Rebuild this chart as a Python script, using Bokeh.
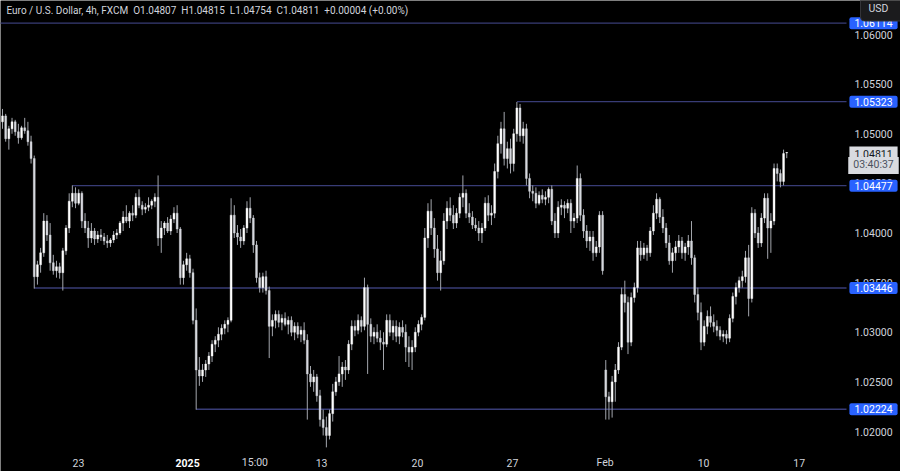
import numpy as np
from bokeh.plotting import figure
from bokeh.models import Range1d, Label, Grid
from bokeh.core.properties import value
from bokeh.embed import file_html
from bokeh.resources import INLINE

# ---------------- data (EUR/USD 4h, FXCM) ----------------
opens = [
    1.0512, 1.0518, 1.0495, 1.0505, 1.0512, 1.0502, 1.0496, 1.0506, 1.0503, 1.0492, 1.0475, 1.0356,
    1.0368, 1.0380, 1.0412, 1.0398, 1.0370, 1.0362, 1.0366, 1.0360, 1.0382, 1.0405, 1.0432, 1.0440,
    1.0430, 1.0440, 1.0412, 1.0405, 1.0395, 1.0402, 1.0394, 1.0398, 1.0396, 1.0392, 1.0390, 1.0393,
    1.0398, 1.0400, 1.0410, 1.0416, 1.0412, 1.0420, 1.0418, 1.0436, 1.0428, 1.0424, 1.0426, 1.0428,
    1.0432, 1.0436, 1.0395, 1.0405, 1.0410, 1.0402, 1.0414, 1.0420, 1.0404, 1.0355, 1.0368, 1.0374,
    1.0360, 1.0312, 1.0262, 1.0256, 1.0262, 1.0268, 1.0276, 1.0288, 1.0292, 1.0298, 1.0304, 1.0308,
    1.0312, 1.0418, 1.0400, 1.0396, 1.0392, 1.0405, 1.0425, 1.0415, 1.0388, 1.0355, 1.0345, 1.0356,
    1.0342, 1.0306, 1.0312, 1.0318, 1.0310, 1.0314, 1.0308, 1.0312, 1.0300, 1.0306, 1.0298, 1.0302,
    1.0292, 1.0258, 1.0250, 1.0255, 1.0236, 1.0212, 1.0204, 1.0196, 1.0218, 1.0240, 1.0250, 1.0258,
    1.0265, 1.0262, 1.0288, 1.0306, 1.0302, 1.0312, 1.0306, 1.0345, 1.0308, 1.0296, 1.0300, 1.0294,
    1.0290, 1.0288, 1.0312, 1.0300, 1.0306, 1.0296, 1.0305, 1.0300, 1.0285, 1.0280, 1.0285, 1.0300,
    1.0308, 1.0315, 1.0395, 1.0422, 1.0405, 1.0384, 1.0360, 1.0372, 1.0412, 1.0425, 1.0418, 1.0410,
    1.0420, 1.0436, 1.0440, 1.0420, 1.0416, 1.0408, 1.0405, 1.0400, 1.0405, 1.0430, 1.0418, 1.0420,
    1.0462, 1.0490, 1.0505, 1.0475, 1.0485, 1.0470, 1.0500, 1.0526, 1.0498, 1.0505, 1.0455, 1.0442,
    1.0440, 1.0430, 1.0438, 1.0434, 1.0436, 1.0444, 1.0412, 1.0400, 1.0426, 1.0428, 1.0425, 1.0430,
    1.0412, 1.0415, 1.0455, 1.0418, 1.0402, 1.0392, 1.0396, 1.0380, 1.0386, 1.0418, 1.0262, 1.0235,
    1.0230, 1.0250, 1.0262, 1.0285, 1.0338, 1.0330, 1.0290, 1.0335, 1.0345, 1.0385, 1.0378, 1.0385,
    1.0380, 1.0402, 1.0420, 1.0434, 1.0416, 1.0405, 1.0390, 1.0372, 1.0380, 1.0386, 1.0392, 1.0380,
    1.0386, 1.0392, 1.0375, 1.0338, 1.0320, 1.0290, 1.0306, 1.0316, 1.0310, 1.0306, 1.0302, 1.0296,
    1.0298, 1.0294, 1.0314, 1.0336, 1.0345, 1.0352, 1.0356, 1.0375, 1.0334, 1.0420, 1.0400, 1.0390,
    1.0415, 1.0435, 1.0405, 1.0412, 1.0465, 1.0460, 1.0452, 1.04807,
]
highs = [
    1.0525, 1.0520, 1.0508, 1.0516, 1.0514, 1.0510, 1.0508, 1.0516, 1.0512, 1.0498, 1.0478, 1.0372,
    1.0385, 1.0420, 1.0418, 1.0410, 1.0378, 1.0372, 1.0370, 1.0385, 1.0408, 1.0440, 1.0448, 1.0446,
    1.0444, 1.0442, 1.0420, 1.0412, 1.0410, 1.0405, 1.0402, 1.0404, 1.0400, 1.0398, 1.0395, 1.0402,
    1.0404, 1.0412, 1.0422, 1.0428, 1.0422, 1.0428, 1.0440, 1.0444, 1.0432, 1.0430, 1.0436, 1.0434,
    1.0440, 1.0458, 1.0412, 1.0412, 1.0416, 1.0418, 1.0426, 1.0428, 1.0406, 1.0372, 1.0380, 1.0378,
    1.0364, 1.0324, 1.0275, 1.0268, 1.0272, 1.0280, 1.0292, 1.0296, 1.0305, 1.0308, 1.0312, 1.0315,
    1.0435, 1.0428, 1.0408, 1.0404, 1.0408, 1.0432, 1.0436, 1.0418, 1.0392, 1.0360, 1.0360, 1.0362,
    1.0346, 1.0318, 1.0322, 1.0322, 1.0318, 1.0320, 1.0316, 1.0316, 1.0310, 1.0310, 1.0306, 1.0310,
    1.0298, 1.0266, 1.0262, 1.0258, 1.0242, 1.0222, 1.0215, 1.0222, 1.0248, 1.0255, 1.0276, 1.0270,
    1.0272, 1.0292, 1.0312, 1.0312, 1.0318, 1.0316, 1.0355, 1.0348, 1.0314, 1.0305, 1.0308, 1.0302,
    1.0300, 1.0318, 1.0318, 1.0312, 1.0312, 1.0310, 1.0312, 1.0308, 1.0296, 1.0292, 1.0305, 1.0312,
    1.0318, 1.0405, 1.0430, 1.0434, 1.0415, 1.0398, 1.0382, 1.0420, 1.0432, 1.0436, 1.0428, 1.0425,
    1.0440, 1.0458, 1.0444, 1.0430, 1.0422, 1.0415, 1.0412, 1.0410, 1.0436, 1.0438, 1.0428, 1.0470,
    1.0498, 1.0512, 1.0522, 1.0492, 1.0495, 1.0505, 1.0532, 1.0530, 1.0512, 1.0510, 1.0460, 1.0448,
    1.0446, 1.0442, 1.0444, 1.0442, 1.0446, 1.0448, 1.0420, 1.0432, 1.0434, 1.0432, 1.0434, 1.0434,
    1.0420, 1.0468, 1.0460, 1.0424, 1.0408, 1.0402, 1.0402, 1.0392, 1.0422, 1.0422, 1.0272, 1.0240,
    1.0256, 1.0268, 1.0290, 1.0345, 1.0352, 1.0336, 1.0340, 1.0350, 1.0392, 1.0392, 1.0390, 1.0388,
    1.0406, 1.0428, 1.0440, 1.0436, 1.0424, 1.0410, 1.0398, 1.0385, 1.0392, 1.0398, 1.0396, 1.0390,
    1.0398, 1.0412, 1.0378, 1.0345, 1.0330, 1.0312, 1.0322, 1.0326, 1.0318, 1.0312, 1.0306, 1.0302,
    1.0302, 1.0318, 1.0340, 1.0350, 1.0356, 1.0362, 1.0382, 1.0388, 1.0426, 1.0424, 1.0406, 1.0420,
    1.0440, 1.0440, 1.0420, 1.0470, 1.0470, 1.0464, 1.0484, 1.04815,
]
lows = [
    1.0505, 1.0492, 1.0484, 1.0500, 1.0498, 1.0490, 1.0494, 1.0500, 1.0488, 1.0470, 1.0344, 1.0348,
    1.0360, 1.0376, 1.0392, 1.0362, 1.0358, 1.0355, 1.0354, 1.0342, 1.0378, 1.0400, 1.0426, 1.0425,
    1.0428, 1.0405, 1.0400, 1.0385, 1.0390, 1.0388, 1.0390, 1.0392, 1.0388, 1.0385, 1.0386, 1.0390,
    1.0394, 1.0398, 1.0402, 1.0410, 1.0405, 1.0412, 1.0415, 1.0425, 1.0418, 1.0420, 1.0422, 1.0424,
    1.0426, 1.0387, 1.0380, 1.0398, 1.0400, 1.0398, 1.0410, 1.0400, 1.0348, 1.0348, 1.0362, 1.0355,
    1.0308, 1.0222, 1.0246, 1.0250, 1.0255, 1.0262, 1.0270, 1.0280, 1.0285, 1.0292, 1.0298, 1.0300,
    1.0310, 1.0395, 1.0388, 1.0385, 1.0388, 1.0400, 1.0410, 1.0380, 1.0350, 1.0340, 1.0340, 1.0338,
    1.0274, 1.0296, 1.0304, 1.0305, 1.0302, 1.0306, 1.0298, 1.0296, 1.0292, 1.0294, 1.0290, 1.0288,
    1.0212, 1.0245, 1.0240, 1.0230, 1.0205, 1.0196, 1.0184, 1.0192, 1.0210, 1.0236, 1.0246, 1.0245,
    1.0252, 1.0258, 1.0282, 1.0296, 1.0298, 1.0300, 1.0302, 1.0258, 1.0290, 1.0288, 1.0290, 1.0282,
    1.0262, 1.0285, 1.0296, 1.0292, 1.0290, 1.0288, 1.0295, 1.0270, 1.0265, 1.0262, 1.0280, 1.0296,
    1.0302, 1.0312, 1.0385, 1.0398, 1.0375, 1.0352, 1.0342, 1.0368, 1.0404, 1.0412, 1.0404, 1.0405,
    1.0415, 1.0426, 1.0415, 1.0410, 1.0404, 1.0402, 1.0392, 1.0390, 1.0402, 1.0412, 1.0408, 1.0415,
    1.0455, 1.0480, 1.0468, 1.0465, 1.0460, 1.0462, 1.0492, 1.0492, 1.0490, 1.0448, 1.0435, 1.0432,
    1.0425, 1.0428, 1.0430, 1.0428, 1.0430, 1.0408, 1.0395, 1.0395, 1.0418, 1.0415, 1.0420, 1.0400,
    1.0405, 1.0410, 1.0412, 1.0395, 1.0385, 1.0382, 1.0372, 1.0376, 1.0380, 1.0358, 1.0212, 1.0212,
    1.0214, 1.0230, 1.0258, 1.0282, 1.0320, 1.0278, 1.0286, 1.0330, 1.0340, 1.0372, 1.0374, 1.0372,
    1.0376, 1.0398, 1.0414, 1.0410, 1.0400, 1.0385, 1.0368, 1.0360, 1.0372, 1.0380, 1.0374, 1.0372,
    1.0378, 1.0368, 1.0330, 1.0312, 1.0282, 1.0286, 1.0298, 1.0305, 1.0300, 1.0296, 1.0292, 1.0290,
    1.0288, 1.0290, 1.0310, 1.0328, 1.0340, 1.0345, 1.0350, 1.0316, 1.0330, 1.0395, 1.0385, 1.0386,
    1.0410, 1.0374, 1.0380, 1.0408, 1.0452, 1.0446, 1.0448, 1.04754,
]
closes = [
    1.0518, 1.0495, 1.0505, 1.0512, 1.0502, 1.0496, 1.0506, 1.0503, 1.0492, 1.0475, 1.0356, 1.0368,
    1.0380, 1.0412, 1.0398, 1.0370, 1.0362, 1.0366, 1.0360, 1.0382, 1.0405, 1.0432, 1.0440, 1.0430,
    1.0440, 1.0412, 1.0405, 1.0395, 1.0402, 1.0394, 1.0398, 1.0396, 1.0392, 1.0390, 1.0393, 1.0398,
    1.0400, 1.0410, 1.0416, 1.0412, 1.0420, 1.0418, 1.0436, 1.0428, 1.0424, 1.0426, 1.0428, 1.0432,
    1.0436, 1.0395, 1.0405, 1.0410, 1.0402, 1.0414, 1.0420, 1.0404, 1.0355, 1.0368, 1.0374, 1.0360,
    1.0312, 1.0262, 1.0256, 1.0262, 1.0268, 1.0276, 1.0288, 1.0292, 1.0298, 1.0304, 1.0308, 1.0312,
    1.0418, 1.0400, 1.0396, 1.0392, 1.0405, 1.0425, 1.0415, 1.0388, 1.0355, 1.0345, 1.0356, 1.0342,
    1.0306, 1.0312, 1.0318, 1.0310, 1.0314, 1.0308, 1.0312, 1.0300, 1.0306, 1.0298, 1.0302, 1.0292,
    1.0258, 1.0250, 1.0255, 1.0236, 1.0212, 1.0204, 1.0196, 1.0218, 1.0240, 1.0250, 1.0258, 1.0265,
    1.0262, 1.0288, 1.0306, 1.0302, 1.0312, 1.0306, 1.0345, 1.0308, 1.0296, 1.0300, 1.0294, 1.0290,
    1.0288, 1.0312, 1.0300, 1.0306, 1.0296, 1.0305, 1.0300, 1.0285, 1.0280, 1.0285, 1.0300, 1.0308,
    1.0315, 1.0395, 1.0422, 1.0405, 1.0384, 1.0360, 1.0372, 1.0412, 1.0425, 1.0418, 1.0410, 1.0420,
    1.0436, 1.0440, 1.0420, 1.0416, 1.0408, 1.0405, 1.0400, 1.0405, 1.0430, 1.0418, 1.0420, 1.0462,
    1.0490, 1.0505, 1.0475, 1.0485, 1.0470, 1.0500, 1.0526, 1.0498, 1.0505, 1.0455, 1.0442, 1.0440,
    1.0430, 1.0438, 1.0434, 1.0436, 1.0444, 1.0412, 1.0400, 1.0426, 1.0428, 1.0425, 1.0430, 1.0412,
    1.0415, 1.0455, 1.0418, 1.0402, 1.0392, 1.0396, 1.0380, 1.0386, 1.0418, 1.0362, 1.0235, 1.0230,
    1.0250, 1.0262, 1.0285, 1.0338, 1.0330, 1.0290, 1.0335, 1.0345, 1.0385, 1.0378, 1.0385, 1.0380,
    1.0402, 1.0420, 1.0434, 1.0416, 1.0405, 1.0390, 1.0372, 1.0380, 1.0386, 1.0392, 1.0380, 1.0386,
    1.0392, 1.0375, 1.0338, 1.0320, 1.0290, 1.0306, 1.0316, 1.0310, 1.0306, 1.0302, 1.0296, 1.0298,
    1.0294, 1.0314, 1.0336, 1.0345, 1.0352, 1.0356, 1.0375, 1.0334, 1.0420, 1.0400, 1.0390, 1.0415,
    1.0435, 1.0405, 1.0412, 1.0465, 1.0460, 1.0452, 1.0480, 1.04811,
]

level_prices = [1.06114, 1.05323, 1.04477, 1.03446, 1.02224]
level_start_idx = [-5, 162, 22, 10, 61]

price_ticks = [1.020, 1.025, 1.030, 1.035, 1.040, 1.045, 1.050, 1.055, 1.060]
time_labels = ["23", "2025", "15:00", "13", "20", "27", "Feb", "10", "17"]
time_label_pos = [23.9, 58.3, 79.5, 100.5, 130.7, 160.6, 189.8, 220.8, 250.9]
countdown = "03:40:37"
title = "Euro / U.S. Dollar, 4h, FXCM"

# ---------------- layout (whole canvas is the plotting frame) ----------------
W, H = 900, 471
PX = 3.1751          # pixels per candle
PY = 9925.0          # pixels per price unit
XL = -0.63
XR = XL + W / PX
YT = 1.063426
YB = YT - H / PY


def sx2d(sx):
    return XL + sx / PX


def sy2d(sy):
    return YT - sy / PY


FONT = "Roboto"
FS = "10.5px"
TXT = "#d1d4dc"
LEVEL = "#383c76"
AXIS_X = 873          # centre of price-scale texts, px

p = figure(width=W, height=H, x_range=Range1d(XL, XR), y_range=Range1d(YB, YT),
           output_backend="svg", toolbar_location=None,
           x_axis_location=None, y_axis_location=None,
           background_fill_color="#000000", border_fill_color="#000000",
           outline_line_color=None, min_border=0)
for g in p.select(type=Grid):
    g.visible = False

# level lines (end at the price scale)
p.segment(x0=level_start_idx, y0=level_prices, x1=[sx2d(846)] * len(level_prices), y1=level_prices,
          line_color=LEVEL, line_width=1.3)

# candles
o = np.array(opens)
h = np.array(highs)
l = np.array(lows)
c = np.array(closes)
idx = np.arange(len(c))
up = c >= o
p.segment(x0=idx, y0=h, x1=idx, y1=l, line_color="#a3a6ad", line_width=1)
p.vbar(x=idx[up], width=0.6, top=c[up], bottom=o[up], fill_color="#ffffff", line_color="#ffffff",
       line_width=0.4)
p.vbar(x=idx[~up], width=0.6, top=o[~up], bottom=c[~up], fill_color="#d6d8de", line_color="#d6d8de",
       line_width=0.4)

# price scale tick labels
p.text(x=[sx2d(AXIS_X)] * len(price_ticks), y=price_ticks, text=[f"{t:.5f}" for t in price_ticks],
       text_align="center", text_baseline="middle", text_color=TXT,
       text_font=value(FONT), text_font_size=FS)

# time scale labels
p.text(x=time_label_pos, y=[sy2d(462)] * len(time_labels), text=time_labels,
       text_align="center", text_baseline="middle",
       text_color=["#ffffff" if t == "2025" else TXT for t in time_labels],
       text_font_style=["bold" if t == "2025" else "normal" for t in time_labels],
       text_font=value(FONT), text_font_size=FS)

# header legend
nb = "\u00a0"
chg = closes[-1] - opens[-1]
header = (f"{title}{nb}{nb}O{opens[-1]:.5f}{nb}{nb}H{highs[-1]:.5f}{nb}{nb}L{lows[-1]:.5f}"
          f"{nb}{nb}C{closes[-1]:.5f}{nb}{nb}{chg:+.5f}{nb}({chg / opens[-1] * 100:+.2f}%)")
p.add_layout(Label(x=sx2d(6), y=sy2d(10), text=header, text_align="left", text_baseline="middle",
                   text_color=TXT, text_font=FONT, text_font_size="10px"))

# level price tags (padding: horizontal, vertical)
for price in level_prices:
    p.add_layout(Label(x=sx2d(AXIS_X), y=price, text=f"{price:.5f}", text_align="center",
                       text_baseline="middle", text_color="#ffffff", text_font=FONT,
                       text_font_size=FS, background_fill_color="#2962ff",
                       padding=(5, 2), border_radius=2))

# current price tag (padding: left, right, top, bottom)
p.add_layout(Label(x=sx2d(AXIS_X), y=closes[-1], text=f"{closes[-1]:.5f}", text_align="center",
                   text_baseline="middle", text_color="#131722", text_font=FONT,
                   text_font_size=FS, background_fill_color="#d9dbe0",
                   padding=(5, 5, 3, 1)))
p.add_layout(Label(x=sx2d(AXIS_X), y=sy2d(165), text=countdown, text_align="center",
                   text_baseline="middle", text_color="#4c525e", text_font=FONT,
                   text_font_size=FS, background_fill_color="#d9dbe0",
                   padding=(5, 5, 1, 3)))

# currency box (drawn last, it covers the top of the 1.06114 tag)
p.add_layout(Label(x=sx2d(860), y=sy2d(8), text="USD", text_align="left", text_baseline="middle",
                   text_color=TXT, text_font=FONT, text_font_size=FS,
                   background_fill_color="#1b1b1d", border_line_color="#343438",
                   padding=(8, 22, 6, 6), border_radius=4))

open("out.html", "w").write(file_html(p, INLINE))
